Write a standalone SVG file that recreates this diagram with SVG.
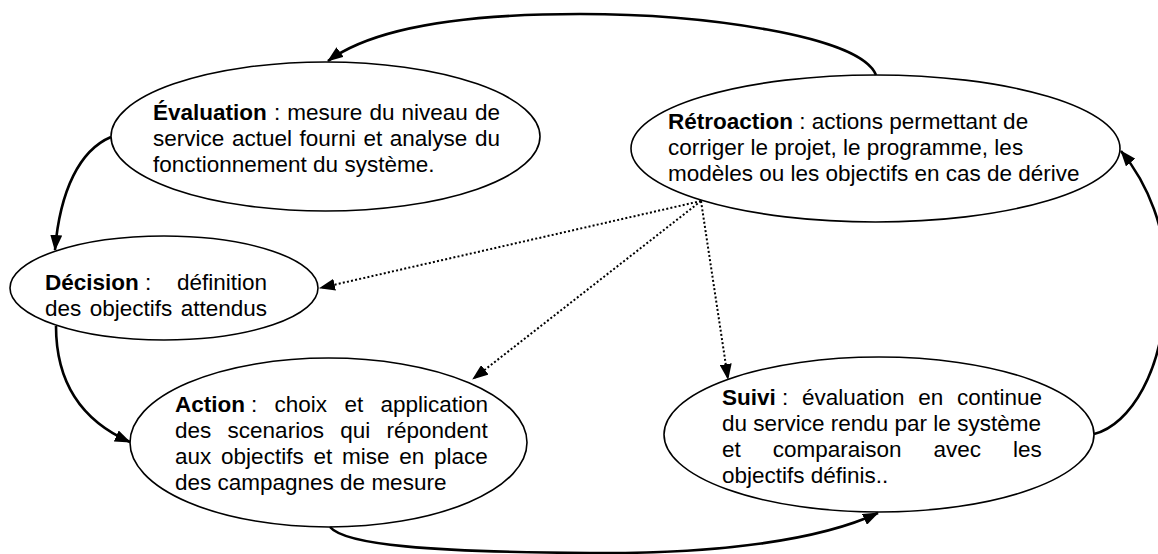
<svg xmlns="http://www.w3.org/2000/svg" width="1158" height="554" viewBox="0 0 1158 554">
<style>
.node ellipse{fill:#fff;stroke:#000;stroke-width:1.6}
text{font-family:"Liberation Sans",Arial,sans-serif;font-size:22.5px;fill:#000}
.b{font-weight:bold}
.solid{fill:none;stroke:#000;stroke-width:2.6}
.dot{fill:none;stroke:#000;stroke-width:2;stroke-dasharray:2 2.2}
</style>
<defs>
<marker id="ah" markerUnits="userSpaceOnUse" viewBox="0 0 16 12" markerWidth="16" markerHeight="12" refX="15" refY="6" orient="auto">
<path d="M0,0 L16,6 L0,12 z" fill="#000"/>
</marker>
</defs>
<rect width="1158" height="554" fill="#fff"/>

<g id="evaluation" class="node">
<ellipse cx="325.5" cy="136.5" rx="214.5" ry="74.5"/>
<text x="153" y="120" word-spacing="0.86"><tspan class="b">Évaluation</tspan> : mesure du niveau de</text>
<text x="153" y="146" word-spacing="1.36">service actuel fourni et analyse du</text>
<text x="153" y="172">fonctionnement du système.</text>
</g>

<g id="retroaction" class="node">
<ellipse cx="875.5" cy="148.5" rx="244.5" ry="73.5"/>
<text x="668" y="129"><tspan class="b">Rétroaction</tspan> : actions permettant de</text>
<text x="668" y="155">corriger le projet, le programme, les</text>
<text x="668" y="181">modèles ou les objectifs en cas de dérive</text>
</g>

<g id="decision" class="node">
<ellipse cx="164" cy="288" rx="154" ry="52"/>
<text y="290"><tspan class="b" x="45">Décision</tspan><tspan x="145">:</tspan><tspan x="177">définition</tspan></text>
<text x="45" y="316" word-spacing="2.2">des objectifs attendus</text>
</g>

<g id="action" class="node">
<ellipse cx="328.5" cy="442.5" rx="198.5" ry="84.5"/>
<text y="412"><tspan class="b" x="175">Action</tspan><tspan x="251">:</tspan><tspan x="274.6">choix</tspan><tspan x="344.4">et</tspan><tspan x="380.5">application</tspan></text>
<text y="438"><tspan x="175">des</tspan><tspan x="227.6">scenarios</tspan><tspan x="340.2">qui</tspan><tspan x="386.5">répondent</tspan></text>
<text y="464"><tspan x="175">aux</tspan><tspan x="221.1">objectifs</tspan><tspan x="313.4">et</tspan><tspan x="342">mise</tspan><tspan x="399.3">en</tspan><tspan x="434.1">place</tspan></text>
<text x="175" y="490">des campagnes de mesure</text>
</g>

<g id="suivi" class="node">
<ellipse cx="879" cy="434.5" rx="215" ry="77.5"/>
<text y="405"><tspan class="b" x="722">Suivi</tspan><tspan x="782">:</tspan><tspan x="802">évaluation</tspan><tspan x="918.3">en</tspan><tspan x="957">continue</tspan></text>
<text x="722" y="431">du service rendu par le système</text>
<text y="457"><tspan x="722">et</tspan><tspan x="772.8">comparaison</tspan><tspan x="933.6">avec</tspan><tspan x="1013.1">les</tspan></text>
<text x="722" y="483">objectifs définis..</text>
</g>

<g id="connectors">
<path class="solid" marker-end="url(#ah)" d="M876 75 C860 35 700 14 580 14 C450 14 370 30 328 61"/>
<path class="solid" marker-end="url(#ah)" d="M111 137 C80 150 60 190 55 250"/>
<path class="solid" marker-end="url(#ah)" d="M56 326 C56 380 80 420 130 442"/>
<path class="solid" marker-end="url(#ah)" d="M330 527 C345 545 430 552 590 553 C720 554 820 540 878 513"/>
<path class="solid" marker-end="url(#ah)" d="M1094 434 C1130 425 1165 370 1165 290 C1170 230 1145 180 1121 151"/>
<path class="dot" marker-end="url(#ah)" d="M701 201 L320 288"/>
<path class="dot" marker-end="url(#ah)" d="M701 201 L473 379"/>
<path class="dot" marker-end="url(#ah)" d="M701 201 L728 379"/>
</g>
</svg>
